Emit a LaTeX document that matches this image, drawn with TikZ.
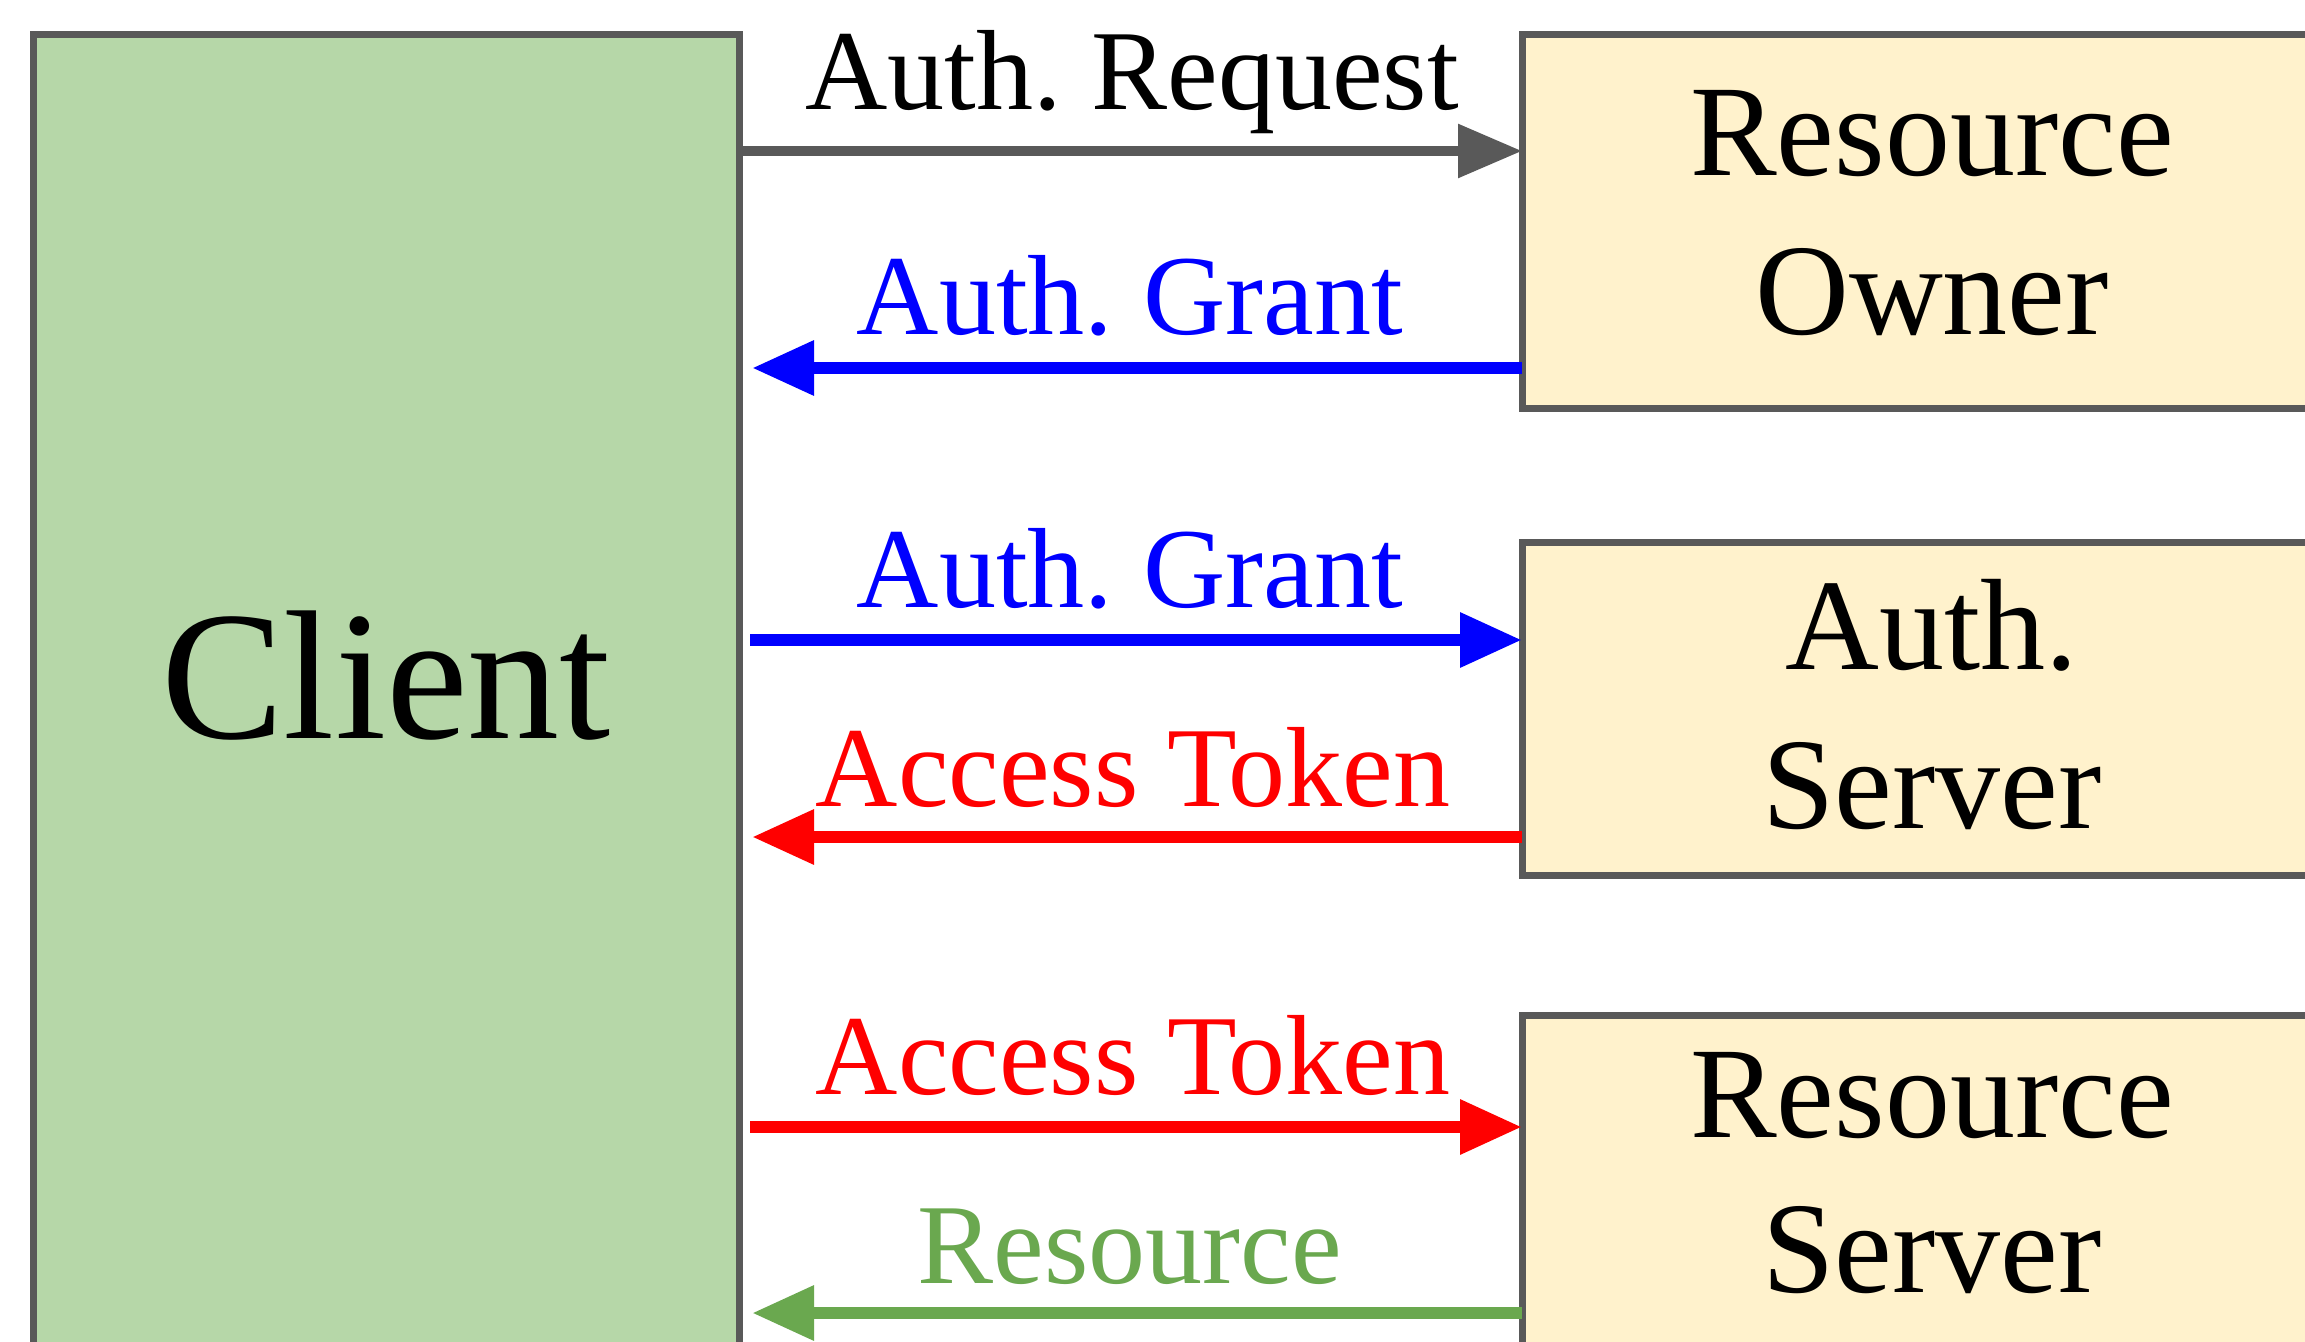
\documentclass[tikz,border=0pt]{standalone}
\usepackage{fontspec}
\setmainfont{Liberation Serif}
\usetikzlibrary{arrows.meta}
\definecolor{boxline}{HTML}{595959}
\definecolor{clientfill}{HTML}{B6D7A8}
\definecolor{ownerfill}{HTML}{FFF2CC}
\definecolor{okblue}{HTML}{0000FF}
\definecolor{okred}{HTML}{FF0000}
\definecolor{okgreen}{HTML}{6AA84F}
\definecolor{okgray}{HTML}{595959}
\begin{document}
\begin{tikzpicture}[x=0.5pt,y=-0.5pt,
  box/.style={draw=boxline, line width=3.5pt, rectangle, inner sep=0pt, outer sep=0pt, anchor=north west},
  lbl/.style={anchor=base, inner sep=0pt, font=\fontsize{57}{60}\selectfont},
  boxtxt/.style={anchor=base, inner sep=0pt, font=\fontsize{65}{70}\selectfont},
  flow/.style={line width=6.3pt, -{Triangle[length=31pt,width=26pt]}},
  flowgray/.style={line width=4.6pt, draw=okgray, -{Triangle[length=32pt,width=26pt]}},
]
\clip (0,0) rectangle (2305,1342);
\fill[white] (0,0) rectangle (2305,1342);
% boxes
\node[box, fill=clientfill, minimum width=353pt, minimum height=722pt] (client) at (33,35) {};
\node[box, fill=ownerfill, minimum width=439pt, minimum height=186.75pt] (owner) at (1522,34.5) {};
\node[box, fill=ownerfill, minimum width=439pt, minimum height=166.5pt] (authsrv) at (1522,542) {};
\node[box, fill=ownerfill, minimum width=439pt, minimum height=232.5pt] (ressrv) at (1522,1015) {};
% box texts
\node[anchor=base, inner sep=0pt, font=\fontsize{92}{96}\selectfont] (clienttxt) at (386,738) {Client};
\node[boxtxt] (ownerA) at (1932,176) {Resource};
\node[boxtxt] (ownerB) at (1932,335) {Owner};
\node[boxtxt] (authA) at (1932,669) {Auth.};
\node[boxtxt] (authB) at (1932,828) {Server};
\node[boxtxt] (resA) at (1932,1137) {Resource};
\node[boxtxt] (resB) at (1932,1292) {Server};
% rows
\coordinate (r1) at (0,151);
\coordinate (r2) at (0,368);
\coordinate (r3) at (0,640);
\coordinate (r4) at (0,837);
\coordinate (r5) at (0,1127);
\coordinate (r6) at (0,1313);
% connectors
\draw[flowgray] (client.east |- r1) -- (owner.west |- r1);
\draw[flow, draw=okblue, fill=okblue, shorten >=6.5pt] (owner.west |- r2) -- (client.east |- r2);
\draw[flow, draw=okblue, fill=okblue, shorten <=5.5pt] (client.east |- r3) -- (authsrv.west |- r3);
\draw[flow, draw=okred, fill=okred, shorten >=6.5pt] (authsrv.west |- r4) -- (client.east |- r4);
\draw[flow, draw=okred, fill=okred, shorten <=5.5pt] (client.east |- r5) -- (ressrv.west |- r5);
\draw[flow, draw=okgreen, fill=okgreen, shorten >=6.5pt] (ressrv.west |- r6) -- (client.east |- r6);
% labels
\node[lbl] (l1) at (1132,110) {Auth.\hspace{-4pt} Request};
\node[lbl, text=okblue] (l2) at (1130,335) {Auth.\hspace{-4pt} Grant};
\node[lbl, text=okblue] (l3) at (1130,607) {Auth.\hspace{-4pt} Grant};
\node[lbl, text=okred] (l4) at (1133,806) {Access Token};
\node[lbl, text=okred] (l5) at (1133,1094) {Access Token};
\node[lbl, text=okgreen] (l6) at (1130,1283) {Resource};
\end{tikzpicture}
\end{document}
